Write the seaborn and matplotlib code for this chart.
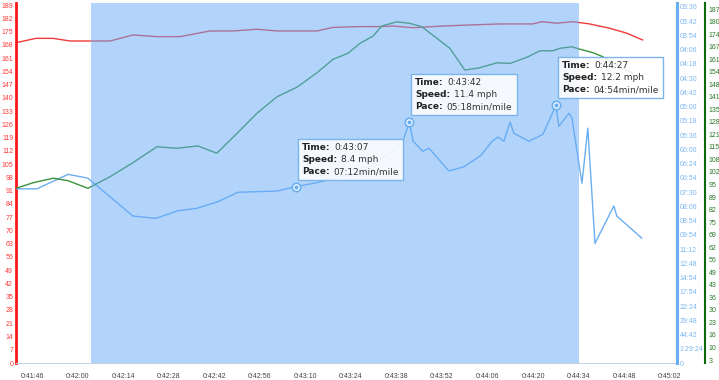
import matplotlib
matplotlib.use("Agg")
from matplotlib import pyplot as plt
from matplotlib.offsetbox import TextArea, HPacker, VPacker, AnnotationBbox
import seaborn as sns
import pandas as pd
import numpy as np

# --- data (elapsed seconds) ---
hr_time = [2501.1, 2507.2, 2512.5, 2517.7, 2530.0, 2537.0, 2544.4, 2551.5, 2560.7, 2567.8,
           2575.1, 2581.3, 2593.6, 2598.5, 2606.8, 2612.9, 2616.9, 2623.1, 2632.3, 2639.6,
           2649.8, 2659.9, 2662.7, 2667.3, 2672.2, 2677.4, 2683.6, 2688.8, 2693.7]
hr_bpm = [169.1, 171.4, 171.4, 170.0, 170.0, 173.2, 172.3, 172.3, 175.3, 175.3,
          176.2, 175.3, 175.3, 177.2, 177.6, 177.6, 177.9, 177.0, 177.9, 178.4,
          179.0, 179.0, 180.2, 179.4, 180.2, 179.0, 176.7, 174.1, 170.5]

cad_time = [2501.1, 2506.3, 2512.5, 2517.1, 2523.2, 2530.0, 2537.0, 2544.4, 2550.5, 2557.0,
            2562.8, 2569.0, 2575.1, 2581.3, 2587.4, 2593.6, 2598.5, 2603.1, 2606.8, 2610.8,
            2613.5, 2618.1, 2622.1, 2625.8, 2634.4, 2639.0, 2643.6, 2648.9, 2652.9, 2658.1,
            2662.1, 2666.1, 2668.2, 2671.9, 2674.4, 2678.4, 2681.4, 2685.7, 2690.6]
cad_spm = [93.0, 95.9, 98.3, 97.0, 93.0, 99.1, 106.4, 114.8, 114.0, 115.2,
           111.4, 121.8, 132.3, 141.0, 146.0, 153.6, 160.6, 163.8, 169.0, 172.8,
           178.1, 180.3, 179.5, 177.7, 166.4, 155.0, 156.2, 158.8, 158.5, 161.7,
           165.1, 165.1, 166.4, 167.2, 165.9, 164.1, 162.0, 157.6, 153.3]

spd_time = [2501.1, 2507.5, 2517.1, 2523.2, 2537.0, 2544.1, 2550.9, 2556.7, 2563.1, 2569.3,
            2581.3, 2587.0, 2593.2, 2599.4, 2606.8, 2612.9, 2619.7, 2622.0, 2623.1, 2626.1,
            2628.0, 2634.1, 2638.7, 2643.9, 2647.3, 2649.2, 2651.0, 2652.9, 2654.1, 2658.7,
            2663.0, 2667.0, 2667.9, 2671.0, 2671.9, 2675.0, 2676.8, 2679.0, 2684.8, 2685.7,
            2693.4]
spd_mph = [8.15, 8.15, 8.83, 8.65, 6.88, 6.77, 7.13, 7.24, 7.55, 7.99,
           8.05, 8.25, 8.43, 8.66, 8.96, 9.50, 10.29, 11.27, 10.39, 9.91,
           10.05, 8.99, 9.18, 9.71, 10.36, 10.58, 10.38, 11.27, 10.75, 10.38,
           10.70, 12.06, 11.08, 11.69, 11.48, 8.41, 10.99, 5.60, 7.35, 6.88,
           5.84]

selection = (2524.1, 2674.0)
tooltip_idx = [11, 17, 31]
tooltips = [
    ("0:43:07", "8.4 mph", "07:12min/mile"),
    ("0:43:42", "11.4 mph", "05:18min/mile"),
    ("0:44:27", "12.2 mph", "04:54min/mile"),
]
tooltip_pos = [(302, 143), (415, 78), (562, 61)]  # top-left of text, pixels from top

x_ticks = list(range(2506, 2703, 14))
hr_ticks = list(range(0, 190, 7))
pace_labels = ['0', '1:29:24', '44:42', '29:48', '22:24', '17:54', '14:54', '12:48', '11:12',
               '09:54', '08:54', '08:06', '07:30', '06:54', '06:24', '06:00', '05:36', '05:18',
               '05:00', '04:42', '04:30', '04:18', '04:06', '03:54', '03:42', '03:36']
cad_labels = ['3', '10', '16', '23', '30', '36', '43', '49', '56', '62', '69', '75', '82', '89',
              '95', '102', '108', '115', '121', '128', '135', '141', '148', '154', '161', '167',
              '174', '180', '187']


def hms(s):
    s = int(round(s))
    return f"{s // 3600}:{(s % 3600) // 60:02d}:{s % 60:02d}"


sns.set_style("white")
plt.rcParams['font.family'] = ['Liberation Sans', 'DejaVu Sans']

W, H = 719, 380
fig = plt.figure(figsize=(W / 100, H / 100), dpi=100)
ax = fig.add_axes([16 / W, 17 / H, (677 - 16) / W, (363 - 3) / H])
ax_b = ax.twinx()
ax_g = ax.twinx()
ax_g.spines['right'].set_position(('axes', (705 - 16) / (677 - 16)))

RED, BLUE, GREEN = '#f23a3a', '#6aaef2', '#3a933a'

df_hr = pd.DataFrame({'t': hr_time, 'v': hr_bpm})
df_cad = pd.DataFrame({'t': cad_time, 'v': cad_spm})
df_spd = pd.DataFrame({'t': spd_time, 'v': spd_mph})

sns.lineplot(data=df_hr, x='t', y='v', ax=ax, color=RED, lw=1)
sns.lineplot(data=df_spd, x='t', y='v', ax=ax_b, color=BLUE, lw=1)
sns.lineplot(data=df_cad, x='t', y='v', ax=ax_g, color=GREEN, lw=1)

# selection overlay on top of all lines
ax_g.axvspan(*selection, color='#67abf7', alpha=0.5, lw=0, zorder=10)

# highlighted points on the speed series
mx = [spd_time[i] for i in tooltip_idx]
my = [spd_mph[i] for i in tooltip_idx]
ax_g.plot(mx, my, 'o', transform=ax_b.transData, ms=6, mfc='white', mec=BLUE, mew=1.2, zorder=12)
ax_g.plot(mx, my, 'o', transform=ax_b.transData, ms=2, color=BLUE, zorder=13)

# axes limits / ticks
for a in (ax, ax_b, ax_g):
    a.set_xlim(2501.1, 2704.2)
    a.set_xlabel('')
    a.set_ylabel('')
    for s in ('top', 'left', 'right', 'bottom'):
        a.spines[s].set_visible(False)

ax.set_ylim(0, 190.06)
ax.set_yticks(hr_ticks)
ax.set_yticklabels([str(v) for v in hr_ticks])
ax.spines['left'].set_visible(True)
ax.spines['left'].set_color('#ff1a1a')
ax.spines['left'].set_linewidth(2)
ax.spines['bottom'].set_visible(True)
ax.spines['bottom'].set_color('#c6d3e2')
ax.tick_params(axis='y', length=0, pad=2, labelsize=5, labelcolor='#ff3b3b')
ax.set_xticks(x_ticks)
ax.set_xticklabels([hms(t) for t in x_ticks])
ax.tick_params(axis='x', length=3, width=0.8, color='#c6d3e2', pad=4, labelsize=5, labelcolor='#444444')

ax_b.set_ylim(0, 16.85)
ax_b.set_yticks([k * 16.6667 / 25 for k in range(26)])
ax_b.set_yticklabels(pace_labels)
ax_b.spines['right'].set_visible(True)
ax_b.spines['right'].set_color('#6aaef2')
ax_b.spines['right'].set_linewidth(2.2)
ax_b.tick_params(axis='y', length=0, pad=2, labelsize=5, labelcolor='#7db8f0')

ax_g.set_ylim(1.43, 190.15)
ax_g.set_yticks(np.linspace(3, 187, 29))
ax_g.set_yticklabels(cad_labels)
ax_g.spines['right'].set_visible(True)
ax_g.spines['right'].set_color('#0b6b0b')
ax_g.spines['right'].set_linewidth(1.5)
ax_g.tick_params(axis='y', length=0, pad=2.5, labelsize=5, labelcolor='#2b7a2b')

# tooltips
tp_bold = dict(fontsize=6.45, fontweight='bold', color='#222222', family='DejaVu Sans')
tp_norm = dict(fontsize=6.45, color='#333333', family='DejaVu Sans')
for (tm, sp, pc), (px, py) in zip(tooltips, tooltip_pos):
    rows = []
    for lab, val in (("Time:", tm), ("Speed:", sp), ("Pace:", pc)):
        rows.append(HPacker(children=[TextArea(lab, textprops=tp_bold), TextArea(val, textprops=tp_norm)],
                            sep=3, pad=0, align='baseline'))
    box = VPacker(children=rows, sep=2.2, pad=0, align='left')
    ab = AnnotationBbox(box, (px, H - py), xycoords='figure pixels', box_alignment=(0, 1),
                        pad=0.3, frameon=True,
                        bboxprops=dict(boxstyle='square,pad=0.3', fc=(1, 1, 1, 0.88), ec='#7cb5ec', lw=1))
    ab.set_zorder(20)
    fig.add_artist(ab)

fig.savefig('out.png', dpi=100)
